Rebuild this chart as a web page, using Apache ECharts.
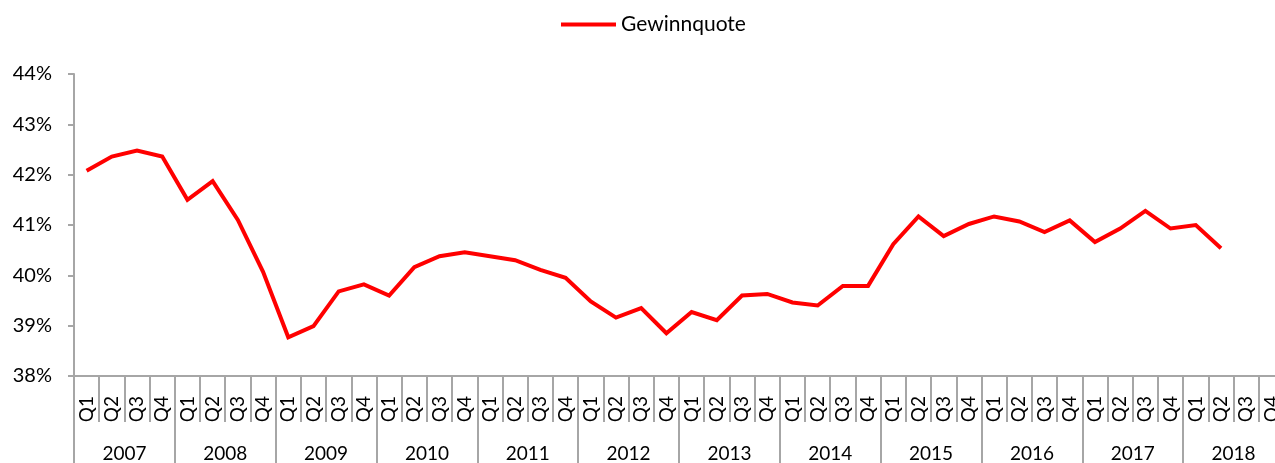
<!DOCTYPE html>
<html>
<head>
<meta charset="utf-8">
<script src="https://cdn.jsdelivr.net/npm/echarts@6/dist/echarts.min.js"></script>
<style>
  html, body { margin: 0; padding: 0; background: #fff; overflow: hidden; }
  /* etwas breiter als das Fenster: rechter Rand (Q4 2018) wird abgeschnitten */
  #chart { width: 1284px; height: 463px; }
</style>
</head>
<body>
<div id="chart"></div>
<script>
// Jahre und Quartale
var years = ['2007', '2008', '2009', '2010', '2011', '2012', '2013', '2014', '2015', '2016', '2017', '2018'];
var quarters = ['Q1', 'Q2', 'Q3', 'Q4'];
// Gewinnquote in %, 2007 Q1 bis 2018 Q2
var gewinnquote = [
  42.08, 42.36, 42.48, 42.36,
  41.50, 41.87, 41.10, 40.07,
  38.77, 38.99, 39.68, 39.82,
  39.60, 40.16, 40.38, 40.46,
  40.38, 40.30, 40.11, 39.95,
  39.48, 39.16, 39.35, 38.85,
  39.27, 39.11, 39.60, 39.63,
  39.46, 39.40, 39.79, 39.79,
  40.62, 41.17, 40.78, 41.02,
  41.17, 41.07, 40.86, 41.09,
  40.66, 40.93, 41.28, 40.93,
  41.00, 40.54
];

var qCats = [];
years.forEach(function (y) {
  quarters.forEach(function (q) { qCats.push(q); });
});

var fontName = 'Lato';
var axisGray = '#a6a6a6';

var myChart = echarts.init(document.getElementById('chart'));

var option = {
  animation: false,
  textStyle: { fontFamily: fontName, color: '#000' },
  legend: {
    top: 9,
    left: 561,
    padding: [5, 0, 5, 0],
    icon: 'rect',
    itemWidth: 55,
    itemHeight: 4,
    textStyle: { fontFamily: fontName, fontSize: 21, color: '#000' },
    data: ['Gewinnquote']
  },
  grid: { left: 74, top: 74, bottom: 87, right: 0 },
  xAxis: [
    {
      type: 'category',
      data: qCats,
      position: 'bottom',
      axisLine: { lineStyle: { color: axisGray, width: 2 } },
      axisTick: { show: true, interval: 0, length: 46, lineStyle: { color: axisGray, width: 2 } },
      axisLabel: { interval: 0, rotate: 90, margin: 20, fontSize: 19, color: '#000', fontFamily: fontName }
    },
    {
      type: 'category',
      data: years,
      position: 'bottom',
      axisLine: { show: false },
      axisTick: { show: true, interval: 0, length: 90, lineStyle: { color: axisGray, width: 2 } },
      axisLabel: { interval: 0, margin: 68, fontSize: 19, color: '#000', fontFamily: fontName }
    }
  ],
  yAxis: {
    type: 'value',
    min: 38,
    max: 44,
    interval: 1,
    axisLine: { show: true, lineStyle: { color: axisGray, width: 2 } },
    axisTick: { show: true, length: 6, lineStyle: { color: axisGray, width: 2 } },
    splitLine: { show: false },
    axisLabel: { formatter: '{value}%', margin: 22, fontSize: 20, color: '#000', fontFamily: fontName }
  },
  series: [
    {
      name: 'Gewinnquote',
      type: 'line',
      xAxisIndex: 0,
      data: gewinnquote,
      symbol: 'none',
      itemStyle: { color: '#ff0000' },
      lineStyle: { color: '#ff0000', width: 4, join: 'miter' }
    }
  ]
};

myChart.setOption(option);
</script>
</body>
</html>
